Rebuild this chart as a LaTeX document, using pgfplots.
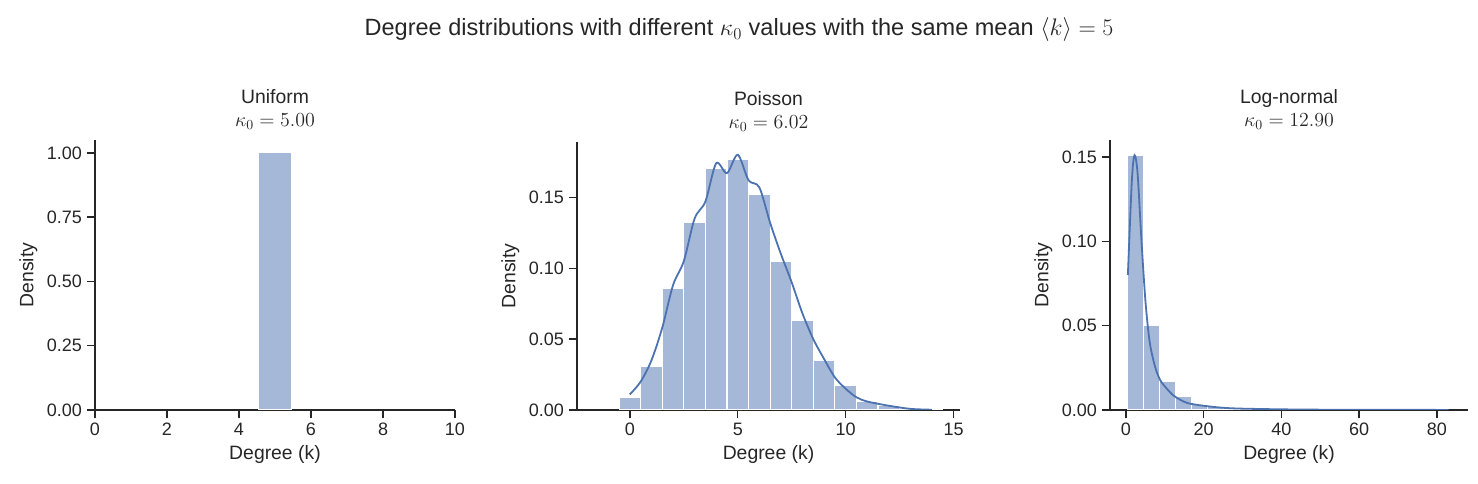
\documentclass[border=0pt]{standalone}
\usepackage{pgfplots}
\pgfplotsset{compat=1.18}
\usepackage{fontspec}
\setmainfont{Liberation Sans}
\definecolor{txt}{HTML}{262626}
\definecolor{sb}{HTML}{4C72B0}
\definecolor{bar}{HTML}{A5B8D7}
\pgfplotsset{
  base/.style={
    scale only axis, anchor=south west,
    axis lines*=left, axis line style={txt, line width=1pt},
    tick style={txt, line width=1pt}, tick align=outside,
    major tick length=6pt, xtick pos=bottom, ytick pos=left,
    ticklabel style={font=\fontsize{13}{15}\selectfont, text=txt},
    /pgf/number format/assume math mode=true,
    label style={font=\fontsize{14}{16}\selectfont, text=txt},
    title style={font=\fontsize{14}{17}\selectfont, text=txt, align=center, yshift=-2pt},
    xlabel={Degree (k)}, ylabel={Density},
    ymin=0,
    ybar interval? /.style={},
  },
  hb/.style={fill=bar, draw=white, line width=0.8pt},
  kde/.style={sb, line width=1.3pt, smooth, no marks},
}
\begin{document}
\begin{tikzpicture}[x=1in,y=1in]
\path[use as bounding box] (0,0) rectangle (14.78,4.83);
\node[text=txt, font=\fontsize{17}{20}\selectfont] at (7.39,4.53) {Degree distributions with different $\kappa_0$ values with the same mean $\langle k\rangle = 5$};

\begin{axis}[base, at={(0.95in,0.73in)}, width=3.6in, height=2.7in,
  xmin=0, xmax=10, ymax=1.05, xtick={0,2,...,10},
  ytick={0,0.25,0.5,0.75,1}, yticklabel style={/pgf/number format/.cd,fixed,fixed zerofill,precision=2},
  title={Uniform\\$\kappa_0 = 5.00$}]
\addplot[hb] coordinates {(4.55,0) (4.55,1) (5.45,1) (5.45,0)} -- cycle;
\end{axis}

\begin{axis}[base, at={(5.77in,0.73in)}, width=3.83in, height=2.68in,
  xmin=-2.45, xmax=15.3, ymax=0.189, xtick={0,5,10,15},
  ytick={0,0.05,0.1,0.15}, yticklabel style={/pgf/number format/.cd,fixed,fixed zerofill,precision=2},
  title={Poisson\\$\kappa_0 = 6.02$}]
\addplot[ybar, bar width=1, hb, bar shift=0pt] coordinates {
(0,0.009)(1,0.031)(2,0.086)(3,0.132)(4,0.170)(5,0.177)(6,0.152)(7,0.105)(8,0.063)(9,0.035)(10,0.017)(11,0.006)(12,0.003)(13,0.0005)(14,0.0002)};
\addplot[kde] coordinates {
(0,0.011)(0.5,0.02)(1,0.035)(1.5,0.058)(2,0.088)(2.5,0.105)(3,0.135)(3.5,0.147)(4,0.174)(4.5,0.167)(5,0.180)(5.5,0.162)(6,0.157)(6.5,0.132)(7,0.110)(7.5,0.090)(8,0.068)(8.5,0.050)(9,0.036)(9.5,0.023)(10,0.015)(10.5,0.009)(11,0.006)(12,0.003)(13,0.0008)(14,0.0002)};
\end{axis}

\begin{axis}[base, at={(11.10in,0.73in)}, width=3.58in, height=2.7in,
  xmin=-4.1, xmax=88, ymax=0.16, xtick={0,20,...,80},
  ytick={0,0.05,0.1,0.15}, yticklabel style={/pgf/number format/.cd,fixed,fixed zerofill,precision=2},
  title={Log-normal\\$\kappa_0 = 12.90$}]
\addplot[ybar, bar width=4.1, hb, bar shift=0pt] coordinates {
(2.55,0.151)(6.65,0.050)(10.75,0.017)(14.85,0.008)(18.95,0.003)(23.05,0.002)(27.15,0.001)(31.25,0.0008)(35.35,0.0004)(39.45,0.0005)(43.55,0.0003)(47.65,0.0001)(51.75,0.0001)(68.15,0.0001)};
\addplot[kde] coordinates {
(0.5,0.08)(1.5,0.135)(2.2,0.151)(3,0.14)(4,0.1)(5,0.065)(6,0.042)(7,0.03)(8,0.022)(9,0.017)(10,0.014)(12,0.009)(14,0.006)(16,0.004)(20,0.0025)(25,0.0013)(30,0.0008)(40,0.0004)(50,0.0002)(60,0.0001)(70,0.0002)(83,0)};
\end{axis}
\end{tikzpicture}
\end{document}
